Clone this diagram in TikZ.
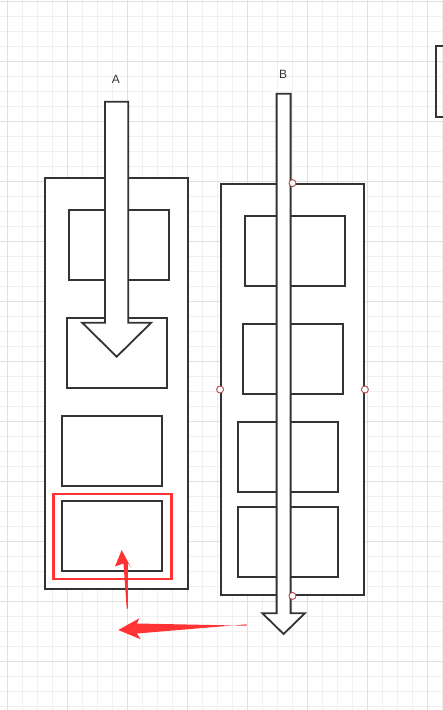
\documentclass[tikz,border=0pt]{standalone}
\usepackage{fontspec}
\newfontfamily\labelfont{Liberation Sans}
\usetikzlibrary{positioning}
\definecolor{lineGray}{HTML}{333333}
\definecolor{markRed}{HTML}{FF3333}
\definecolor{gridMinor}{HTML}{F0F0F0}
\definecolor{gridMajor}{HTML}{E0E0E0}
\definecolor{pointRed}{HTML}{B04A4A}

\begin{document}
\begin{tikzpicture}[x=1pt,y=-1pt,
		innerbox/.style={draw=lineGray,line width=1.8pt,fill=white,minimum width=100pt,minimum height=70pt,inner sep=0pt},
		outerbox/.style={innerbox,minimum width=143pt,minimum height=411pt},
		blockarrow/.style={draw=lineGray,line width=1.8pt,fill=white,line join=miter},
		redarrow/.style={fill=markRed,draw=none},
		handle/.style={circle,draw=pointRed,fill=white,line width=0.9pt,minimum size=7pt,inner sep=0pt},
		lbl/.style={font=\labelfont\fontsize{12}{14}\selectfont,text=lineGray}]
				\useasboundingbox (0,0) rectangle (443,710);
				\clip (0,0) rectangle (443,710);
				\fill[white] (0,0) rectangle (443,710);
				
				% grid
				\foreach \i in {0,...,29} \draw[gridMinor,line width=0.8pt] ({7.3+15*\i},0) -- ++(0,710);
				\foreach \i in {0,...,47} \draw[gridMinor,line width=0.8pt] (0,{1+15*\i}) -- ++(443,0);
				\foreach \i in {0,...,7} \draw[gridMajor,line width=0.8pt] ({7.3+60*\i},0) -- ++(0,710);
				\foreach \i in {0,...,11} \draw[gridMajor,line width=0.8pt] (0,{1+60*\i}) -- ++(443,0);
				
				% column A
				\draw (116.5,383.5) node[outerbox] (caseA) {};
				\draw (112.5,536.5) node[draw=markRed,line width=2.4pt,minimum width=118pt,minimum height=85pt,inner sep=0pt] (mark) {};
				\draw (119,245) node[innerbox] (a1) {};
				\draw (117,353) node[innerbox] (a2) {};
				\draw (112,451) node[innerbox] (a3) {};
				\draw (112,536) node[innerbox] (a4) {};
				\draw[blockarrow] (105,101.7) -- (128.3,101.7) -- (128.3,322.7) -- (151.2,322.7) -- (116.7,356.7) -- (82.2,322.7) -- (105,322.7) -- cycle;
				\draw (116,79) node[lbl] (labA) {A};
				
				% column B
				\draw (292.5,389.5) node[outerbox] (caseB) {};
				\draw (295,251) node[innerbox] (b1) {};
				\draw (293,359) node[innerbox] (b2) {};
				\draw (288,457) node[innerbox] (b3) {};
				\draw (288,542) node[innerbox] (b4) {};
				\draw[blockarrow] (276.6,93.7) -- (290.6,93.7) -- (290.6,613.3) -- (304.8,613.3) -- (283.6,634) -- (262.4,613.3) -- (276.6,613.3) -- cycle;
				\draw (283,74) node[lbl] (labB) {B};
				\draw (caseB.north) node[handle] (hN) {};
				\draw (caseB.south) node[handle] (hS) {};
				\draw (caseB.west) node[handle] (hW) {};
				\draw (caseB.east) node[handle] (hE) {};
				
				% red marks
				\coordinate (upTip) at (121.7,550);
				\coordinate (upTail) at (127.3,608.5);
				\coordinate (leftTip) at (118.3,630);
				\coordinate (leftTail) at (246.7,625);
				\fill[redarrow] (upTip) -- (131,567.5) -- (128,563) -- ([xshift=0.6pt]upTail) -- ([xshift=-0.6pt]upTail) -- (123.5,563.5) -- (115,566.5) -- cycle;
				\fill[redarrow] (leftTip) -- (139.3,618.3) -- (137,623.5) -- ([yshift=-0.7pt]leftTail) -- ([yshift=0.7pt]leftTail) -- (137,633.5) -- (140.7,639.3) -- cycle;
				
				% edge of a box to the right
				\draw (453,81.5) node[draw=lineGray,line width=1.8pt,minimum width=34pt,minimum height=71pt,inner sep=0pt] (side) {};
			\end{tikzpicture}
\end{document}
